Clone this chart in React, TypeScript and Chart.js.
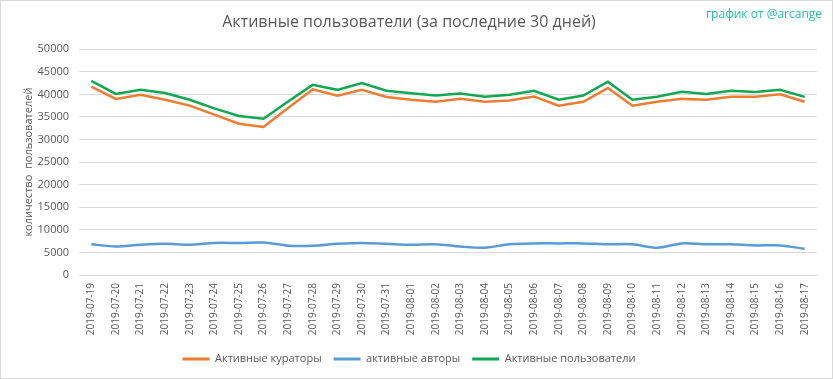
import React, { useEffect, useRef } from "react";
import { Chart, registerables } from "chart.js";

Chart.register(...registerables);

const categories = [
  "2019-07-19", "2019-07-20", "2019-07-21", "2019-07-22", "2019-07-23", "2019-07-24",
  "2019-07-25", "2019-07-26", "2019-07-27", "2019-07-28", "2019-07-29", "2019-07-30",
  "2019-07-31", "2019-08-01", "2019-08-02", "2019-08-03", "2019-08-04", "2019-08-05",
  "2019-08-06", "2019-08-07", "2019-08-08", "2019-08-09", "2019-08-10", "2019-08-11",
  "2019-08-12", "2019-08-13", "2019-08-14", "2019-08-15", "2019-08-16", "2019-08-17",
];

const curators = [
  41700, 39000, 39900, 38800, 37500, 35500, 33500, 32800, 37000, 41100,
  39700, 41000, 39400, 38800, 38350, 39000, 38350, 38650, 39500, 37500,
  38350, 41400, 37500, 38350, 39000, 38800, 39450, 39450, 40000, 38350,
];

const authors = [
  6800, 6300, 6700, 6900, 6700, 7100, 7100, 7200, 6500, 6500,
  6900, 7100, 6900, 6700, 6800, 6300, 6050, 6800, 7000, 7000,
  7000, 6800, 6800, 6050, 7000, 6800, 6800, 6550, 6550, 5800,
];

const activeUsers = [
  43000, 40100, 41000, 40300, 38800, 36900, 35200, 34600, 38400, 42100,
  41000, 42500, 40800, 40250, 39750, 40200, 39450, 39900, 40800, 38800,
  39750, 42800, 38800, 39450, 40550, 40100, 40800, 40550, 41000, 39450,
];

const yTicks = [0, 5000, 10000, 15000, 20000, 25000, 30000, 35000, 40000, 45000, 50000];

const seriesNames = ["Активные кураторы", "активные авторы", "Активные пользователи"];
const titleText = "Активные пользователи (за последние 30 дней)";
const yTitle = "количество  пользователей";
const watermark = "график от @arcange";

const FONT = "'Open Sans', 'Noto Sans', sans-serif";
const TEXT = "#595959";

export default function App() {
  const ref = useRef<HTMLCanvasElement | null>(null);

  useEffect(() => {
    document.body.style.margin = "0";
    const canvas = ref.current;
    if (!canvas) return;

    const watermarkPlugin = {
      id: "watermark",
      afterDraw(chart: any) {
        const ctx = chart.ctx;
        ctx.save();
        ctx.font = `12px ${FONT}`;
        ctx.fillStyle = "#22C39C";
        ctx.textAlign = "right";
        ctx.textBaseline = "middle";
        ctx.fillText(watermark, 821, 14);
        ctx.restore();
      },
    };

    const chart = new Chart(canvas, {
      type: "line",
      data: {
        labels: categories,
        datasets: [
          {
            label: seriesNames[0],
            data: curators,
            borderColor: "#ED7D31",
            backgroundColor: "#ED7D31",
            borderWidth: 2.5,
            pointRadius: 0,
            tension: 0,
          },
          {
            label: seriesNames[1],
            data: authors,
            borderColor: "#5B9BD5",
            backgroundColor: "#5B9BD5",
            borderWidth: 2.5,
            pointRadius: 0,
            tension: 0.3,
          },
          {
            label: seriesNames[2],
            data: activeUsers,
            borderColor: "#12A852",
            backgroundColor: "#12A852",
            borderWidth: 2.5,
            pointRadius: 0,
            tension: 0,
          },
        ],
      },
      options: {
        animation: false,
        responsive: false,
        maintainAspectRatio: false,
        layout: { padding: { left: 0, right: 15, top: 0, bottom: 3.5 } },
        plugins: {
          title: {
            display: true,
            text: titleText,
            color: TEXT,
            font: { family: FONT, size: 16, weight: "normal" },
            padding: { top: 12, bottom: 17 },
          },
          legend: {
            position: "bottom",
            labels: {
              color: TEXT,
              font: { family: FONT, size: 11 },
              boxWidth: 27,
              boxHeight: 3,
              padding: 12,
              generateLabels: (c: any) =>
                (Chart.defaults.plugins.legend.labels.generateLabels as any)(c).map((l: any) => ({
                  ...l,
                  lineWidth: 0,
                  fillStyle: l.strokeStyle,
                })),
            },
          },
          tooltip: { enabled: false },
        },
        scales: {
          x: {
            offset: true,
            grid: { display: false, drawTicks: false },
            border: { display: true, color: "#D9D9D9" },
            ticks: {
              color: TEXT,
              font: { family: FONT, size: 10 },
              minRotation: 90,
              maxRotation: 90,
              autoSkip: false,
              padding: 8,
            },
            afterFit: (s: any) => {
              s.height = 66.5;
            },
          },
          y: {
            min: 0,
            max: 50000,
            afterBuildTicks: (s: any) => {
              s.ticks = yTicks.map((v) => ({ value: v }));
            },
            grid: { color: "#D9D9D9", drawTicks: false },
            border: { display: false },
            ticks: {
              color: TEXT,
              font: { family: FONT, size: 11 },
              padding: 10,
              callback: (v: any) => String(v),
            },
            title: {
              display: true,
              text: yTitle,
              color: TEXT,
              font: { family: FONT, size: 11 },
              padding: { top: 21, bottom: 0 },
            },
            afterFit: (s: any) => {
              s.width = 78;
            },
          },
        },
      },
      plugins: [watermarkPlugin],
    });

    return () => chart.destroy();
  }, []);

  return (
    <div
      style={{
        position: "absolute",
        left: 0,
        top: 0,
        width: 833,
        height: 379,
        boxSizing: "border-box",
        border: "1px solid #D9D9D9",
        background: "#fff",
      }}
    >
      <canvas ref={ref} width={831} height={377} style={{ display: "block" }} />
    </div>
  );
}
